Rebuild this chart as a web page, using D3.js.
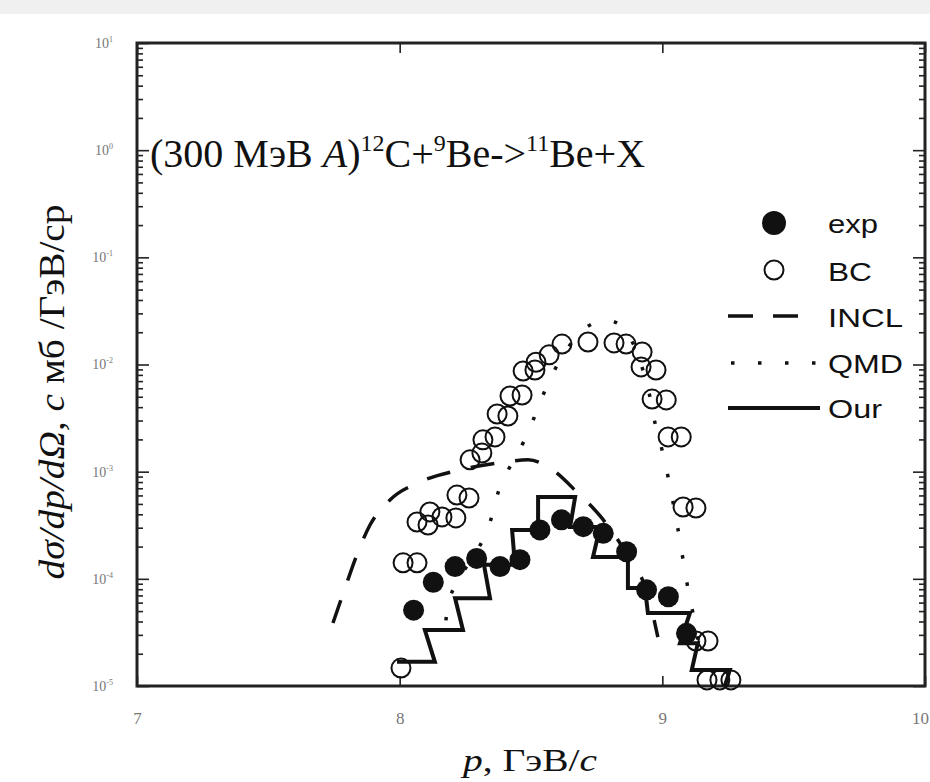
<!DOCTYPE html>
<html lang="ru">
<head>
<meta charset="UTF-8">
<title>11Be</title>
<script src="https://cdn.jsdelivr.net/npm/d3@7/dist/d3.min.js"></script>
<style>
  body { margin: 0; background: #fff; }
  .serif { font-family: "Liberation Serif", "DejaVu Serif", serif; }
  .sans { font-family: "Liberation Sans", Arial, sans-serif; }
  .tick line { stroke: #222; stroke-width: 1.6; }
  .domain { display: none; }
</style>
</head>
<body>
<div id="chart"></div>
<script>
// --- data ---
const xTicks = [7, 8, 9, 10];
const yDecades = [1, 0, -1, -2, -3, -4, -5];

// exp (filled circles)
const expP = [8.053, 8.128, 8.211, 8.293, 8.382, 8.458, 8.534, 8.616, 8.699, 8.775, 8.864, 8.940, 9.023, 9.092];
const expY = [5.1e-5, 9.3e-5, 1.30e-4, 1.55e-4, 1.30e-4, 1.51e-4, 2.86e-4, 3.55e-4, 3.07e-4, 2.66e-4, 1.79e-4, 7.9e-5, 6.8e-5, 3.1e-5];

// BC (open circles)
const bcP = [8.005, 8.013, 8.066, 8.066, 8.108, 8.115, 8.161, 8.214, 8.218, 8.264,
             8.268, 8.313, 8.317, 8.363, 8.371, 8.412, 8.420, 8.466, 8.470, 8.515,
             8.519, 8.569, 8.618, 8.717, 8.816, 8.862, 8.923, 8.919, 8.976, 8.961,
             9.015, 9.022, 9.072, 9.079, 9.128, 9.128, 9.174, 9.170, 9.219, 9.261];
const bcY = [1.47e-5, 1.41e-4, 1.41e-4, 3.39e-4, 3.18e-4, 4.21e-4, 3.78e-4, 3.70e-4, 6.05e-4, 5.68e-4,
             1.29e-3, 1.49e-3, 1.98e-3, 2.11e-3, 3.45e-3, 3.31e-3, 5.08e-3, 5.19e-3, 8.69e-3, 8.89e-3,
             1.05e-2, 1.23e-2, 1.55e-2, 1.62e-2, 1.59e-2, 1.55e-2, 1.31e-2, 9.49e-3, 8.89e-3, 4.76e-3,
             4.67e-3, 2.11e-3, 2.11e-3, 4.68e-4, 4.58e-4, 2.63e-5, 2.63e-5, 1.14e-5, 1.14e-5, 1.14e-5];

// INCL (dashed)
const inclP = [7.746, 7.792, 7.834, 7.887, 7.963, 8.077, 8.230, 8.382, 8.489, 8.572, 8.679, 8.763, 8.869, 8.945, 8.983];
const inclY = [3.87e-5, 8.2e-5, 1.60e-4, 3.18e-4, 5.44e-4, 8.0e-4, 1.04e-3, 1.21e-3, 1.29e-3, 1.08e-3, 6.3e-4, 3.86e-4, 1.63e-4, 7.1e-5, 2.86e-5];

// QMD (dotted)
const qmdP = [8.176, 8.199, 8.317, 8.355, 8.382, 8.489, 8.527, 8.572, 8.629, 8.713, 8.782, 8.839, 8.888, 8.926, 8.953, 8.972, 8.999, 9.022, 9.060, 9.094, 9.113, 9.136];
const qmdY = [4.1e-5, 7.5e-5, 2.31e-4, 4.11e-4, 7.19e-4, 2.30e-3, 4.02e-3, 7.17e-3, 1.31e-2, 2.24e-2, 2.60e-2, 2.34e-2, 1.58e-2, 8.9e-3, 4.98e-3, 2.85e-3, 1.59e-3, 8.9e-4, 2.86e-4, 9.1e-5, 5.3e-5, 2.7e-5];

// Our (solid zig-zag histogram)
const ourP = [7.99, 8.134, 8.096, 8.241, 8.211, 8.344, 8.321, 8.439, 8.428, 8.527, 8.527, 8.668, 8.649, 8.763,
              8.736, 8.869, 8.869, 8.934, 8.945, 9.105, 9.067, 9.135, 9.112, 9.257, 9.238];
const ourY = [1.68e-5, 1.68e-5, 3.33e-5, 3.33e-5, 6.6e-5, 6.6e-5, 1.35e-4, 1.35e-4, 2.86e-4, 2.86e-4, 5.8e-4, 5.8e-4, 3.05e-4, 3.05e-4,
              1.6e-4, 1.6e-4, 8.2e-5, 8.2e-5, 4.8e-5, 4.8e-5, 2.5e-5, 2.5e-5, 1.41e-5, 1.41e-5, 1.0e-5];

const width = 930, height = 782;
const m = { left: 137, right: 925, top: 43, bottom: 686 };

const svg = d3.select("#chart").append("svg")
    .attr("width", width)
    .attr("height", height);

svg.append("rect").attr("width", width).attr("height", 14).attr("fill", "#f0f0f0");

const x = d3.scaleLinear().domain([7, 10]).range([m.left, m.right]);
const y = d3.scaleLog().domain([1e-5, 10]).range([m.bottom, m.top]);

const zip = (a, b) => a.map((v, i) => [v, b[i]]);

// minor ticks on the log axis
const minor = [];
yDecades.slice(1).forEach(e => {
    for (let k = 2; k <= 9; k++) minor.push(k * Math.pow(10, e));
});
const major = yDecades.map(e => Math.pow(10, e));

// left axis
svg.append("g")
    .attr("transform", `translate(${m.left},0)`)
    .call(d3.axisLeft(y).tickValues(minor).tickSizeInner(-6).tickSizeOuter(0).tickFormat(""));
const yAx = svg.append("g")
    .attr("transform", `translate(${m.left},0)`)
    .call(d3.axisLeft(y).tickValues(major).tickSizeInner(-12).tickSizeOuter(0).tickPadding(24));
yAx.selectAll(".tick text")
    .attr("class", "serif")
    .attr("fill", "#777")
    .attr("font-size", 14)
    .each(function(d, i) {
        const t = d3.select(this).text("");
        t.append("tspan").text("10");
        t.append("tspan").attr("dy", -6).attr("font-size", 8).text(yDecades[i] < 0 ? "-" + (-yDecades[i]) : yDecades[i]);
    });

// right axis
svg.append("g")
    .attr("transform", `translate(${m.right},0)`)
    .call(d3.axisRight(y).tickValues(minor).tickSizeInner(-6).tickSizeOuter(0).tickFormat(""));
svg.append("g")
    .attr("transform", `translate(${m.right},0)`)
    .call(d3.axisRight(y).tickValues(major).tickSizeInner(-12).tickSizeOuter(0).tickFormat(""));

// top and bottom axes
svg.append("g")
    .attr("transform", `translate(0,${m.top})`)
    .call(d3.axisTop(x).tickValues(xTicks).tickSizeInner(-10).tickSizeOuter(0).tickFormat(""));
const xAx = svg.append("g")
    .attr("transform", `translate(0,${m.bottom})`)
    .call(d3.axisBottom(x).tickValues(xTicks).tickSizeInner(-10).tickSizeOuter(0)
        .tickPadding(26).tickFormat(d3.format("d")));
xAx.selectAll(".tick text")
    .attr("class", "serif")
    .attr("fill", "#777")
    .attr("font-size", 17)
    .attr("dx", d => d === 10 ? -5 : 0);

// frame
svg.append("rect")
    .attr("x", m.left).attr("y", m.top)
    .attr("width", m.right - m.left).attr("height", m.bottom - m.top)
    .attr("fill", "none").attr("stroke", "#222").attr("stroke-width", 3);

const plot = svg.append("g");

// INCL
plot.append("path")
    .datum(zip(inclP, inclY))
    .attr("fill", "none").attr("stroke", "#111").attr("stroke-width", 3.5)
    .attr("stroke-dasharray", "24 21")
    .attr("d", d3.line().x(d => x(d[0])).y(d => y(d[1])).curve(d3.curveMonotoneX));

// QMD
plot.append("path")
    .datum(zip(qmdP, qmdY))
    .attr("fill", "none").attr("stroke", "#111").attr("stroke-width", 3.5)
    .attr("stroke-dasharray", "3.5 24")
    .attr("d", d3.line().x(d => x(d[0])).y(d => y(d[1])).curve(d3.curveCatmullRom));

// BC
plot.selectAll(".bc")
    .data(zip(bcP, bcY))
    .enter().append("circle")
    .attr("class", "bc")
    .attr("cx", d => x(d[0])).attr("cy", d => y(d[1]))
    .attr("r", 9.5)
    .attr("fill", "none").attr("stroke", "#111").attr("stroke-width", 2);

// exp
plot.selectAll(".exp")
    .data(zip(expP, expY))
    .enter().append("circle")
    .attr("class", "exp")
    .attr("cx", d => x(d[0])).attr("cy", d => y(d[1]))
    .attr("r", 10.5)
    .attr("fill", "#111");

// Our
plot.append("path")
    .datum(zip(ourP, ourY))
    .attr("fill", "none").attr("stroke", "#111").attr("stroke-width", 4)
    .attr("d", d3.line().x(d => x(d[0])).y(d => y(d[1])));

// title
const title = svg.append("text")
    .attr("class", "serif")
    .attr("x", 150).attr("y", 167)
    .attr("font-size", 40)
    .attr("fill", "#111");
title.append("tspan").text("(300 МэВ ");
title.append("tspan").attr("font-style", "italic").text("A");
title.append("tspan").text(")");
title.append("tspan").attr("dy", -16).attr("font-size", 24).text("12");
title.append("tspan").attr("dy", 16).text("C+");
title.append("tspan").attr("dy", -16).attr("font-size", 24).text("9");
title.append("tspan").attr("dy", 16).text("Be->");
title.append("tspan").attr("dy", -16).attr("font-size", 24).text("11");
title.append("tspan").attr("dy", 16).text("Be+X");

// legend
const lg = svg.append("g").attr("class", "sans");
const legendRows = [
    { name: "exp",  y: 223, base: 233, w: 50 },
    { name: "BC",   y: 270, base: 281, w: 44 },
    { name: "INCL", y: 316, base: 327, w: 75 },
    { name: "QMD",  y: 363, base: 373, w: 75 },
    { name: "Our",  y: 408, base: 418, w: 54 }
];
lg.append("circle").attr("cx", 774).attr("cy", legendRows[0].y).attr("r", 12).attr("fill", "#111");
lg.append("circle").attr("cx", 774).attr("cy", legendRows[1].y).attr("r", 9.5)
    .attr("fill", "none").attr("stroke", "#111").attr("stroke-width", 2);
lg.append("line").attr("x1", 728).attr("x2", 800).attr("y1", legendRows[2].y).attr("y2", legendRows[2].y)
    .attr("stroke", "#111").attr("stroke-width", 3.5).attr("stroke-dasharray", "25 20");
lg.append("line").attr("x1", 731).attr("x2", 816).attr("y1", legendRows[3].y).attr("y2", legendRows[3].y)
    .attr("stroke", "#111").attr("stroke-width", 3.5).attr("stroke-dasharray", "3.5 23.5");
lg.append("line").attr("x1", 728).attr("x2", 820).attr("y1", legendRows[4].y).attr("y2", legendRows[4].y)
    .attr("stroke", "#111").attr("stroke-width", 4);
lg.selectAll(".lt")
    .data(legendRows)
    .enter().append("text")
    .attr("class", "lt")
    .attr("x", 828).attr("y", d => d.base)
    .attr("font-size", 26)
    .attr("fill", "#111")
    .attr("textLength", d => d.w)
    .attr("lengthAdjust", "spacingAndGlyphs")
    .text(d => d.name);

// y label
const yl = svg.append("text")
    .attr("class", "serif")
    .attr("transform", "translate(64,392) rotate(-90)")
    .attr("text-anchor", "middle")
    .attr("font-size", 36)
    .attr("fill", "#111")
    .attr("textLength", 375)
    .attr("lengthAdjust", "spacingAndGlyphs");
yl.append("tspan").attr("font-style", "italic").text("dσ/dp/dΩ, c");
yl.append("tspan").text(" мб /ГэВ/ср");

// x label
const xl = svg.append("text")
    .attr("class", "serif")
    .attr("x", 530).attr("y", 771)
    .attr("text-anchor", "middle")
    .attr("font-size", 31)
    .attr("fill", "#111")
    .attr("textLength", 134)
    .attr("lengthAdjust", "spacingAndGlyphs");
xl.append("tspan").attr("font-style", "italic").text("p");
xl.append("tspan").text(", ГэВ/");
xl.append("tspan").attr("font-style", "italic").text("c");
</script>
</body>
</html>
